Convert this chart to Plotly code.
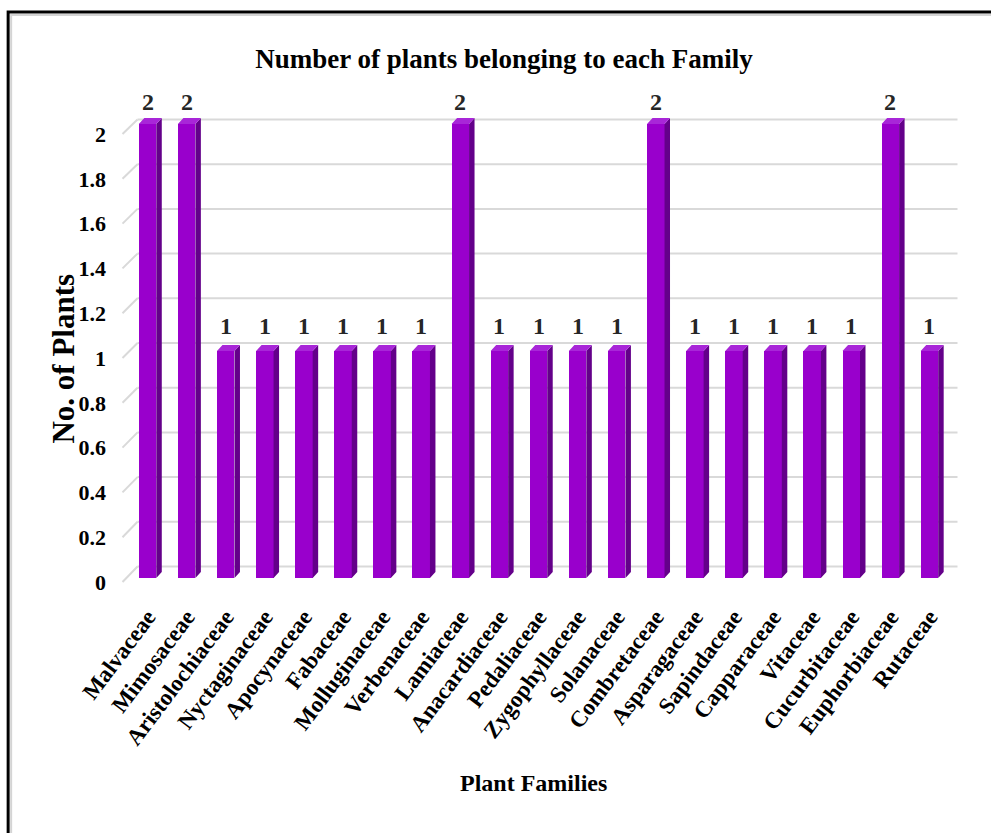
import plotly.graph_objects as go

# ---- data -------------------------------------------------------------
families = [
    "Malvaceae", "Mimosaceae", "Aristolochiaceae", "Nyctaginaceae",
    "Apocynaceae", "Fabaceae", "Molluginaceae", "Verbenaceae",
    "Lamiaceae", "Anacardiaceae", "Pedaliaceae", "Zygophyllaceae",
    "Solanaceae", "Combretaceae", "Asparagaceae", "Sapindaceae",
    "Capparaceae", "Vitaceae", "Cucurbitaceae", "Euphorbiaceae", "Rutaceae",
]
plant_counts = [2, 2, 1, 1, 1, 1, 1, 1, 2, 1, 1, 1, 1, 2, 1, 1, 1, 1, 1, 2, 1]
y_tick_values = [0, 0.2, 0.4, 0.6, 0.8, 1, 1.2, 1.4, 1.6, 1.8, 2]
y_tick_labels = ["0", "0.2", "0.4", "0.6", "0.8", "1", "1.2", "1.4", "1.6", "1.8", "2"]

# ---- geometry (pixels) ------------------------------------------------
FIG_W, FIG_H = 991, 833
PL, PR, PT, PB = 127.5, 949.5, 64.0, 582.0     # paper area
FRONT_ZERO, FRONT_UNIT = 578.0, 227.0          # bar faces
LABEL_ZERO, LABEL_UNIT = 582.0, 224.0          # value axis labels
BACK_ZERO, BACK_UNIT = 566.5, 223.5            # back wall grid
BACK_LEFT, BACK_RIGHT = 137.0, 958.0
Y_MAX = 2.25

def px_x(p):
    return (p - PL) / (PR - PL)

def px_y(p):
    return (PB - p) / (PB - PT)

n = len(families)
band_px = (PR - PL) / n
bar_w = 0.447                      # front face width (category units)
depth_x = 5.5 / band_px            # side face depth
depth_y = 6.0 / FRONT_UNIT         # top face rise

FRONT = "#9900cc"
SIDE = "#64008a"
TOP = "#a826d8"
FONT = "Liberation Serif"

fig = go.Figure()

# front faces
fig.add_trace(go.Bar(
    x=list(range(n)), y=plant_counts, width=bar_w,
    marker=dict(color=FRONT, line=dict(width=0)),
    hoverinfo="skip", showlegend=False,
))

# side and top faces of each bar
side_x, side_y, top_x, top_y = [], [], [], []
for i, v in enumerate(plant_counts):
    l, r = i - bar_w / 2, i + bar_w / 2
    side_x += [r, r + depth_x, r + depth_x, r, r, None]
    side_y += [0, depth_y, v + depth_y, v, 0, None]
    top_x += [l, l + depth_x, r + depth_x, r, l, None]
    top_y += [v, v + depth_y, v + depth_y, v, v, None]

fig.add_trace(go.Scatter(
    x=side_x, y=side_y, mode="lines", fill="toself", fillcolor=SIDE,
    line=dict(width=0, color=SIDE), hoverinfo="skip", showlegend=False,
))
fig.add_trace(go.Scatter(
    x=top_x, y=top_y, mode="lines", fill="toself", fillcolor=TOP,
    line=dict(width=0, color=TOP), hoverinfo="skip", showlegend=False,
))

# carrier for the value-axis labels
fig.add_trace(go.Scatter(x=[None], y=[None], yaxis="y3", mode="markers",
                         hoverinfo="skip", showlegend=False))

shapes = []
# back wall grid with the perspective stub on the left wall
for v in y_tick_values:
    yb = BACK_ZERO - BACK_UNIT * v
    yf = LABEL_ZERO - LABEL_UNIT * v
    shapes.append(dict(type="line", xref="paper", yref="paper", layer="below",
                       x0=px_x(BACK_LEFT), x1=px_x(BACK_RIGHT), y0=px_y(yb), y1=px_y(yb),
                       line=dict(color="#d9d9d9", width=2)))
    shapes.append(dict(type="line", xref="paper", yref="paper", layer="below",
                       x0=px_x(122), x1=px_x(BACK_LEFT), y0=px_y(yf), y1=px_y(yb),
                       line=dict(color="#d9d9d9", width=2)))

# frame around the chart (left and top edges)
for color, w, off in (("#d4d4d4", 2, 3.0), ("#000000", 3, 0.0)):
    shapes.append(dict(type="path", xref="paper", yref="paper", layer="above",
                       path=f"M {px_x(7.5 + off)} {px_y(FIG_H + 10)} "
                            f"L {px_x(7.5 + off)} {px_y(12 + off)} "
                            f"L {px_x(FIG_W + 10)} {px_y(12 + off)}",
                       line=dict(color=color, width=w)))

annotations = []
for i, v in enumerate(plant_counts):
    annotations.append(dict(
        x=i, y=v, xref="x", yref="y3", text=str(v), showarrow=False,
        xanchor="center", yanchor="bottom", yshift=17,
        font=dict(family=FONT, size=24, color="#262626", weight=700),
    ))

annotations.append(dict(
    x=px_x(533), y=px_y(783), xref="paper", yref="paper",
    xanchor="center", yanchor="middle",
    text="Plant Families", showarrow=False,
    font=dict(family=FONT, size=24, color="#000000", weight=700),
))
annotations.append(dict(
    x=px_x(62), y=px_y(359), xref="paper", yref="paper",
    xanchor="center", yanchor="middle",
    text="No. of Plants", showarrow=False, textangle=-90,
    font=dict(family=FONT, size=31, color="#000000", weight=700),
))

fig.update_layout(
    width=FIG_W, height=FIG_H,
    margin=dict(l=PL, r=FIG_W - PR, t=PT, b=FIG_H - PB, pad=0),
    paper_bgcolor="#ffffff", plot_bgcolor="rgba(0,0,0,0)",
    bargap=0,
    title=dict(
        text="Number of plants belonging to each Family",
        x=504 / FIG_W, xref="container", xanchor="center",
        y=1 - 59 / FIG_H, yref="container", yanchor="middle",
        font=dict(family=FONT, size=27, color="#000000", weight=700),
    ),
    xaxis=dict(
        range=[-0.5, n - 0.5], tickmode="array",
        tickvals=list(range(n)), ticktext=families,
        tickangle=-53, ticklabelstandoff=20,
        tickfont=dict(family=FONT, size=23, color="#000000", weight=700),
        showgrid=False, zeroline=False, showline=False, ticks="",
        anchor="y",
    ),
    yaxis=dict(
        range=[0, Y_MAX],
        domain=[px_y(FRONT_ZERO), px_y(FRONT_ZERO - Y_MAX * FRONT_UNIT)],
        showgrid=False, zeroline=False, showline=False,
        showticklabels=False, ticks="",
    ),
    yaxis3=dict(
        range=[0, Y_MAX], anchor="x",
        domain=[px_y(LABEL_ZERO), px_y(LABEL_ZERO - Y_MAX * LABEL_UNIT)],
        tickmode="array", tickvals=y_tick_values, ticktext=y_tick_labels,
        ticklabelstandoff=21,
        tickfont=dict(family=FONT, size=22, color="#000000", weight=700),
        showgrid=False, zeroline=False, showline=False, ticks="",
    ),
    shapes=shapes,
    annotations=annotations,
)

fig.write_html("out.html")
